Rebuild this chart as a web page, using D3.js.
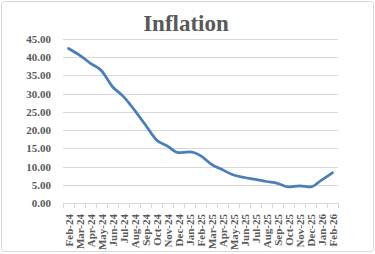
<!DOCTYPE html>
<html>
<head>
<meta charset="utf-8">
<script src="https://cdn.jsdelivr.net/npm/d3@7"></script>
<style>
	body { margin: 0; background: #fff; }
	svg { display: block; }
</style>
</head>
<body>
<div class="chart"></div>
<script>
var months = ["Feb-24","Mar-24","Apr-24","May-24","Jun-24","Jul-24","Aug-24","Sep-24","Oct-24","Nov-24","Dec-24","Jan-25",
	"Feb-25","Mar-25","Apr-25","May-25","Jun-25","Jul-25","Aug-25","Sep-25","Oct-25","Nov-25","Dec-25","Jan-26","Feb-26"];
var inflation = [42.4, 40.6, 38.3, 36.3, 31.9, 29.2, 25.5, 21.4, 17.3, 15.6, 13.8, 14.0,
	13.0, 10.6, 9.1, 7.7, 7.0, 6.5, 5.9, 5.4, 4.4, 4.7, 4.4, 6.3, 8.3];
var yTicks = [0, 5, 10, 15, 20, 25, 30, 35, 40, 45];

var width = 375, height = 254;
var plotLeft = 63, plotRight = 338, plotTop = 39, plotBottom = 203;

var svg = d3.select(".chart").append("svg")
	.attr("width", width)
	.attr("height", height);

// outer border
svg.append("rect")
	.attr("x", 1.5).attr("y", 1.5)
	.attr("width", width - 3).attr("height", height - 4)
	.attr("rx", 3)
	.attr("fill", "#fff")
	.attr("stroke", "#d9d9d9");

svg.append("text")
	.attr("x", 186)
	.attr("y", 31)
	.attr("text-anchor", "middle")
	.style("font-family", "'Liberation Serif', 'Times New Roman', serif")
	.style("font-weight", "bold")
	.style("font-size", "23px")
	.style("fill", "#595959")
	.text("Inflation");

var x = d3.scaleBand().domain(months).range([plotLeft, plotRight]);
var y = d3.scaleLinear().domain([0, 45]).range([plotBottom, plotTop]);

// gridlines
svg.append("g")
	.selectAll("line")
	.data(yTicks.slice(1))
	.enter().append("line")
	.attr("x1", plotLeft).attr("x2", plotRight)
	.attr("y1", function(d) { return Math.round(y(d)) + 0.5; })
	.attr("y2", function(d) { return Math.round(y(d)) + 0.5; })
	.attr("stroke", "#d9d9d9");

// y labels
svg.append("g")
	.selectAll("text")
	.data(yTicks)
	.enter().append("text")
	.attr("x", 51)
	.attr("y", function(d) { return y(d) + 4; })
	.attr("text-anchor", "end")
	.style("font-family", "'Liberation Serif', 'Times New Roman', serif")
	.style("font-weight", "bold")
	.style("font-size", "11px")
	.style("fill", "#595959")
	.text(function(d) { return d.toFixed(2); });

// x axis line with ticks between categories
var xAxis = svg.append("g");
xAxis.append("line")
	.attr("x1", plotLeft).attr("x2", plotRight)
	.attr("y1", plotBottom + 0.5).attr("y2", plotBottom + 0.5)
	.attr("stroke", "#d9d9d9");
xAxis.selectAll(".tick")
	.data(months.concat([null]))
	.enter().append("line")
	.attr("x1", function(d, i) { return Math.round(plotLeft + i * x.step()) + 0.5; })
	.attr("x2", function(d, i) { return Math.round(plotLeft + i * x.step()) + 0.5; })
	.attr("y1", plotBottom).attr("y2", plotBottom + 5)
	.attr("stroke", "#d9d9d9");

xAxis.selectAll("text")
	.data(months)
	.enter().append("text")
	.attr("transform", function(d) {
		return "translate(" + (x(d) + x.bandwidth() / 2 + 4) + "," + (plotBottom + 11) + ")rotate(-90)";
	})
	.attr("text-anchor", "end")
	.style("font-family", "'Liberation Serif', 'Times New Roman', serif")
	.style("font-weight", "bold")
	.style("font-size", "11px")
	.style("fill", "#595959")
	.text(function(d) { return d; });

var line = d3.line()
	.x(function(d, i) { return x(months[i]) + x.bandwidth() / 2; })
	.y(function(d) { return y(d); })
	.curve(d3.curveMonotoneX);

svg.append("path")
	.datum(inflation)
	.attr("d", line)
	.attr("fill", "none")
	.attr("stroke", "#4a7ebb")
	.attr("stroke-width", 2.75)
	.attr("stroke-linejoin", "round")
	.attr("stroke-linecap", "round");
</script>
</body>
</html>
